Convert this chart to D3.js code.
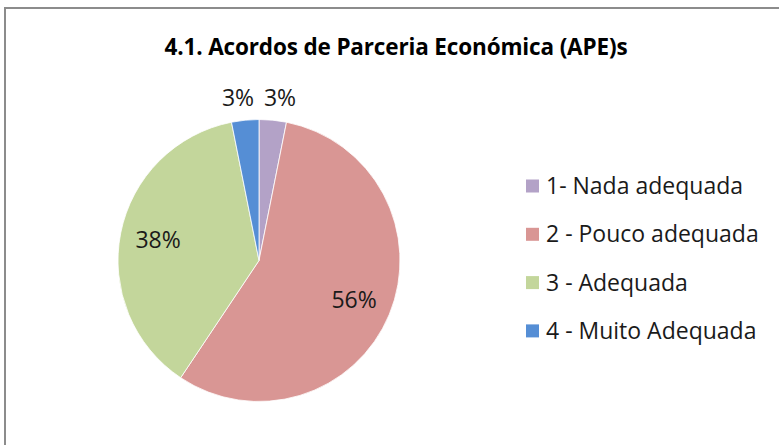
<!DOCTYPE html>
<html>
<head>
<meta charset="utf-8">
<script src="https://cdn.jsdelivr.net/npm/d3@7"></script>
<style>
  body { margin: 0; background: #fff; }
  svg { display: block; }
</style>
</head>
<body>
<div id="chart"></div>
<script>
// data
const titleText = "4.1. Acordos de Parceria Económica (APE)s";
const categories = ["1- Nada adequada", "2 - Pouco adequada", "3 - Adequada", "4 - Muito Adequada"];
const counts = [1, 18, 12, 1];
const sliceColors = ["#B3A2C7", "#D99694", "#C3D69B", "#558ED5"];

const width = 779, height = 445;
const cx = 259, cy = 260.5, radius = 141;

const svg = d3.select("#chart").append("svg")
    .attr("width", width)
    .attr("height", height);

// outer frame (runs off the right and bottom edges)
svg.append("rect")
    .attr("x", 5)
    .attr("y", 8)
    .attr("width", 800)
    .attr("height", 460)
    .attr("fill", "#fff")
    .attr("stroke", "#8c8c8c")
    .attr("stroke-width", 2);

svg.append("text")
    .attr("x", 396)
    .attr("y", 55)
    .attr("text-anchor", "middle")
    .attr("font-family", "'Open Sans', sans-serif")
    .attr("font-weight", "bold")
    .attr("font-size", 22.5)
    .attr("letter-spacing", -0.15)
    .attr("fill", "#000")
    .text(titleText);

const total = d3.sum(counts);
const pie = d3.pie().sort(null).value(d => d);
const arcs = pie(counts);

const arc = d3.arc().innerRadius(0).outerRadius(radius);
const labelArc = d3.arc().innerRadius(radius * 0.73).outerRadius(radius * 0.73);

const g = svg.append("g").attr("transform", `translate(${cx},${cy})`);

g.selectAll("path")
    .data(arcs)
    .join("path")
    .attr("d", arc)
    .attr("fill", (d, i) => sliceColors[i])
    .attr("stroke", "#fff")
    .attr("stroke-width", 0.8);

// labels: big slices inside, small slices pushed out above the rim
const fmt = d => Math.round(d / total * 100) + "%";
const labels = arcs.map((d, i) => {
    const mid = (d.startAngle + d.endAngle) / 2;
    const share = d.value / total;
    if (share > 0.1) {
        const [x, y] = labelArc.centroid(d);
        return { x, y, text: fmt(d.value), outside: false, mid };
    }
    const r = radius + 22;
    return { x: Math.sin(mid) * r, y: -Math.cos(mid) * r, text: fmt(d.value), outside: true, mid };
});

// spread outside labels horizontally so they don't overlap
const outs = labels.filter(l => l.outside).sort((a, b) => a.x - b.x);
const minGap = 42;
for (let k = 1; k < outs.length; k++) {
    const a = outs[k - 1], b = outs[k];
    const d = b.x - a.x;
    if (d < minGap) {
        const push = (minGap - d) / 2;
        a.x -= push;
        b.x += push;
    }
}

g.selectAll("text.pct")
    .data(labels)
    .join("text")
    .attr("class", "pct")
    .attr("x", d => d.x)
    .attr("y", d => d.y)
    .attr("dy", "0.35em")
    .attr("text-anchor", "middle")
    .attr("font-family", "'Open Sans', sans-serif")
    .attr("font-size", 23)
    .attr("fill", "#1a1a1a")
    .text(d => d.text);

// legend
const legend = svg.append("g").attr("transform", "translate(526,186)");
const rowH = 48.3;

const item = legend.selectAll("g")
    .data(categories)
    .join("g")
    .attr("transform", (d, i) => `translate(0,${i * rowH})`);

item.append("rect")
    .attr("x", 0)
    .attr("y", -6.5)
    .attr("width", 13)
    .attr("height", 13)
    .attr("fill", (d, i) => sliceColors[i]);

item.append("text")
    .attr("x", 20)
    .attr("y", 0)
    .attr("dy", "0.35em")
    .attr("font-family", "'Open Sans', sans-serif")
    .attr("font-size", 23)
    .attr("fill", "#1a1a1a")
    .text(d => d);
</script>
</body>
</html>
